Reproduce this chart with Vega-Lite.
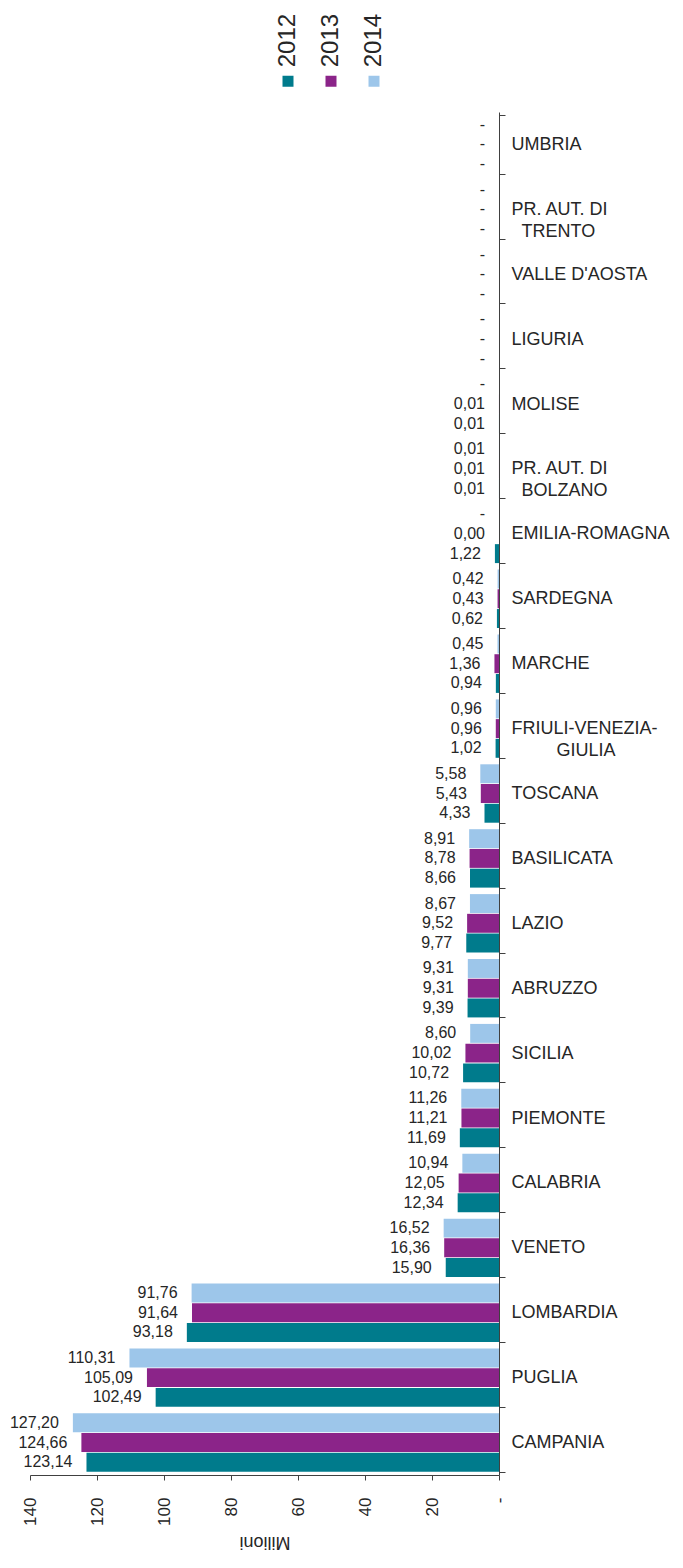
{
  "$schema": "https://vega.github.io/schema/vega-lite/v6.json",
  "autosize": {"type": "none"},
  "padding": {"left": 30, "top": 112, "right": 184, "bottom": 93},
  "width": 469,
  "height": 1363,
  "background": "white",
  "config": {
    "font": "Liberation Sans",
    "view": {"stroke": null},
    "locale": {"number": {"decimal": ",", "thousands": ".", "grouping": [3], "currency": ["€", ""]}}
  },
  "data": {
    "values": [
      {"region": "UMBRIA", "year": "2012", "v": 0}, {"region": "UMBRIA", "year": "2013", "v": 0}, {"region": "UMBRIA", "year": "2014", "v": 0},
      {"region": "PR. AUT. DI TRENTO", "year": "2012", "v": 0}, {"region": "PR. AUT. DI TRENTO", "year": "2013", "v": 0}, {"region": "PR. AUT. DI TRENTO", "year": "2014", "v": 0},
      {"region": "VALLE D'AOSTA", "year": "2012", "v": 0}, {"region": "VALLE D'AOSTA", "year": "2013", "v": 0}, {"region": "VALLE D'AOSTA", "year": "2014", "v": 0},
      {"region": "LIGURIA", "year": "2012", "v": 0}, {"region": "LIGURIA", "year": "2013", "v": 0}, {"region": "LIGURIA", "year": "2014", "v": 0},
      {"region": "MOLISE", "year": "2012", "v": 0.01}, {"region": "MOLISE", "year": "2013", "v": 0.01}, {"region": "MOLISE", "year": "2014", "v": 0},
      {"region": "PR. AUT. DI BOLZANO", "year": "2012", "v": 0.01}, {"region": "PR. AUT. DI BOLZANO", "year": "2013", "v": 0.01}, {"region": "PR. AUT. DI BOLZANO", "year": "2014", "v": 0.01},
      {"region": "EMILIA-ROMAGNA", "year": "2012", "v": 1.22}, {"region": "EMILIA-ROMAGNA", "year": "2013", "v": 0.001}, {"region": "EMILIA-ROMAGNA", "year": "2014", "v": 0},
      {"region": "SARDEGNA", "year": "2012", "v": 0.62}, {"region": "SARDEGNA", "year": "2013", "v": 0.43}, {"region": "SARDEGNA", "year": "2014", "v": 0.42},
      {"region": "MARCHE", "year": "2012", "v": 0.94}, {"region": "MARCHE", "year": "2013", "v": 1.36}, {"region": "MARCHE", "year": "2014", "v": 0.45},
      {"region": "FRIULI-VENEZIA-GIULIA", "year": "2012", "v": 1.02}, {"region": "FRIULI-VENEZIA-GIULIA", "year": "2013", "v": 0.96}, {"region": "FRIULI-VENEZIA-GIULIA", "year": "2014", "v": 0.96},
      {"region": "TOSCANA", "year": "2012", "v": 4.33}, {"region": "TOSCANA", "year": "2013", "v": 5.43}, {"region": "TOSCANA", "year": "2014", "v": 5.58},
      {"region": "BASILICATA", "year": "2012", "v": 8.66}, {"region": "BASILICATA", "year": "2013", "v": 8.78}, {"region": "BASILICATA", "year": "2014", "v": 8.91},
      {"region": "LAZIO", "year": "2012", "v": 9.77}, {"region": "LAZIO", "year": "2013", "v": 9.52}, {"region": "LAZIO", "year": "2014", "v": 8.67},
      {"region": "ABRUZZO", "year": "2012", "v": 9.39}, {"region": "ABRUZZO", "year": "2013", "v": 9.31}, {"region": "ABRUZZO", "year": "2014", "v": 9.31},
      {"region": "SICILIA", "year": "2012", "v": 10.72}, {"region": "SICILIA", "year": "2013", "v": 10.02}, {"region": "SICILIA", "year": "2014", "v": 8.60},
      {"region": "PIEMONTE", "year": "2012", "v": 11.69}, {"region": "PIEMONTE", "year": "2013", "v": 11.21}, {"region": "PIEMONTE", "year": "2014", "v": 11.26},
      {"region": "CALABRIA", "year": "2012", "v": 12.34}, {"region": "CALABRIA", "year": "2013", "v": 12.05}, {"region": "CALABRIA", "year": "2014", "v": 10.94},
      {"region": "VENETO", "year": "2012", "v": 15.90}, {"region": "VENETO", "year": "2013", "v": 16.36}, {"region": "VENETO", "year": "2014", "v": 16.52},
      {"region": "LOMBARDIA", "year": "2012", "v": 93.18}, {"region": "LOMBARDIA", "year": "2013", "v": 91.64}, {"region": "LOMBARDIA", "year": "2014", "v": 91.76},
      {"region": "PUGLIA", "year": "2012", "v": 102.49}, {"region": "PUGLIA", "year": "2013", "v": 105.09}, {"region": "PUGLIA", "year": "2014", "v": 110.31},
      {"region": "CAMPANIA", "year": "2012", "v": 123.14}, {"region": "CAMPANIA", "year": "2013", "v": 124.66}, {"region": "CAMPANIA", "year": "2014", "v": 127.20}
    ]
  },
  "encoding": {
    "y": {
      "field": "region", "type": "nominal",
      "sort": ["UMBRIA", "PR. AUT. DI TRENTO", "VALLE D'AOSTA", "LIGURIA", "MOLISE", "PR. AUT. DI BOLZANO", "EMILIA-ROMAGNA", "SARDEGNA", "MARCHE", "FRIULI-VENEZIA-GIULIA", "TOSCANA", "BASILICATA", "LAZIO", "ABRUZZO", "SICILIA", "PIEMONTE", "CALABRIA", "VENETO", "LOMBARDIA", "PUGLIA", "CAMPANIA"],
      "scale": {"paddingInner": 0.1, "paddingOuter": 0.05},
      "axis": {
        "orient": "right", "title": null, "tickBand": "extent", "tickSize": 6, "labelPadding": 6,
        "labelFontSize": 18, "labelAlign": "left", "labelBaseline": "middle", "labelLineHeight": 22,
        "labelOverlap": false, "labelLimit": 0, "labelColor": "#262626",
        "domainColor": "#404040", "tickColor": "#404040",
        "labelExpr": "datum.value === 'PR. AUT. DI TRENTO' ? ['PR. AUT. DI', '\u200b\u00a0\u00a0TRENTO'] : datum.value === 'PR. AUT. DI BOLZANO' ? ['PR. AUT. DI', '\u200b\u00a0\u00a0BOLZANO'] : datum.value === 'FRIULI-VENEZIA-GIULIA' ? ['FRIULI-VENEZIA-', '\u200b\u00a0\u00a0\u00a0\u00a0\u00a0\u00a0\u00a0\u00a0\u00a0GIULIA'] : datum.label"
      }
    },
    "yOffset": {"field": "year", "type": "nominal", "scale": {"domain": ["2014", "2013", "2012"], "paddingInner": 0.04}},
    "x": {
      "field": "v", "type": "quantitative",
      "scale": {"domain": [0, 140], "reverse": true, "nice": false},
      "axis": {
        "orient": "bottom", "values": [0, 20, 40, 60, 80, 100, 120, 140],
        "labelExpr": "datum.value === 0 ? '-' : datum.label",
        "labelAngle": -90, "labelFontSize": 17, "labelPadding": 17, "tickSize": 5, "grid": false,
        "labelColor": "#262626", "domainColor": "#404040", "tickColor": "#404040",
        "title": "Milioni", "titleAngle": 180, "titleBaseline": "bottom", "titleFontSize": 18,
        "titleFontWeight": "normal", "titleColor": "#262626", "titlePadding": 7
      }
    }
  },
  "layer": [
    {
      "mark": {"type": "bar"},
      "encoding": {
        "color": {
          "field": "year", "type": "nominal",
          "scale": {"domain": ["2012", "2013", "2014"], "range": ["#007b8c", "#8b2489", "#9dc6ea"]},
          "legend": {
            "orient": "none", "legendX": 252, "legendY": -37, "direction": "horizontal", "title": null,
            "symbolType": "square", "symbolSize": 121, "symbolStrokeWidth": 0, "symbolOpacity": 1,
            "labelFontSize": 24, "labelColor": "#262626", "columnPadding": 18,
            "encode": {
              "labels": {"update": {"angle": {"value": -90}, "align": {"value": "left"}, "baseline": {"value": "middle"}, "x": {"value": 6}, "y": {"value": -8}}},
              "symbols": {"update": {"x": {"value": 6}, "y": {"value": 6}}}
            }
          }
        }
      }
    },
    {
      "mark": {"type": "text", "align": "right", "baseline": "middle", "dx": -14, "fontSize": 16, "color": "#262626"},
      "encoding": {
        "text": {"condition": {"test": "datum.v === 0", "value": "-"}, "field": "v", "type": "quantitative", "format": ".2f"}
      }
    }
  ]
}
